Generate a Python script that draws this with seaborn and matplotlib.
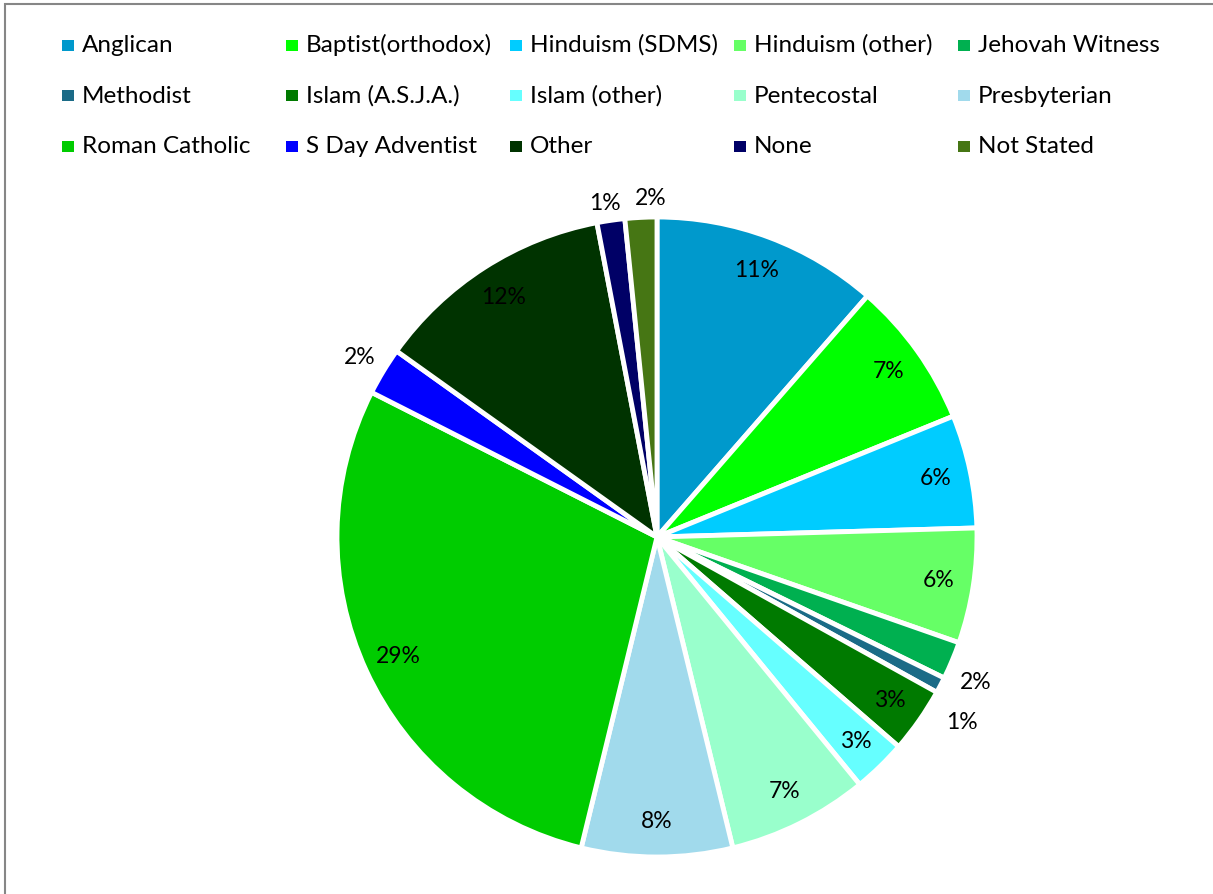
import numpy as np
import matplotlib
matplotlib.use("Agg")
import matplotlib.pyplot as plt
import seaborn as sns
from matplotlib.patches import Rectangle

# Data (share of population, %)
religions = ["Anglican", "Baptist(orthodox)", "Hinduism (SDMS)", "Hinduism (other)",
             "Jehovah Witness", "Methodist", "Islam (A.S.J.A.)", "Islam (other)",
             "Pentecostal", "Presbyterian", "Roman Catholic", "S Day Adventist",
             "Other", "None", "Not Stated"]
shares = [11.4, 7.4, 5.7, 5.8, 1.9, 0.8, 3.3, 2.7, 7.1, 7.6, 28.6, 2.4, 12.1, 1.4, 1.6]
colors = ["#0099CC", "#00FF00", "#00CCFF", "#66FF66", "#00B050", "#1B6B87",
          "#007A00", "#66FFFF", "#99FFCC", "#A1DAEC", "#00CC00", "#0000FF",
          "#003300", "#000066", "#467614"]

sns.set_style("white")
plt.rcParams['font.family'] = ['Lato', 'DejaVu Sans']
FS = 17.5

W, H = 1213, 894
fig = plt.figure(figsize=(W / 100, H / 100), dpi=100)

# pie centre ~ (657, 537) px, radius ~ 320 px
cx, cy, R = 657, 537, 320
ax = fig.add_axes([(cx - R) / W, (H - cy - R) / H, 2 * R / W, 2 * R / H])

palette = sns.color_palette(colors)
wedges, _ = ax.pie(shares, colors=palette, startangle=90, counterclock=False,
                   radius=1.0, wedgeprops=dict(edgecolor="white", linewidth=3.5))
ax.set_xlim(-1, 1)
ax.set_ylim(-1, 1)
ax.set_aspect("equal")
ax.axis("off")

# small outside labels get pushed apart a bit, like Excel's best fit (pixels, right/down)
nudge = {4: (-2, 11), 5: (-3, 25), 13: (-2, 10), 14: (11, 8)}

total = sum(shares)
for i, (w, val) in enumerate(zip(wedges, shares)):
    pct = round(val / total * 100)
    mid = np.deg2rad((w.theta1 + w.theta2) / 2)
    r = 0.89 if pct >= 3 else 1.085
    dx, dy = nudge.get(i, (0, 0))
    ax.annotate(f"{pct}%", (r * np.cos(mid), r * np.sin(mid)),
                xytext=(dx * 0.72, -dy * 0.72), textcoords="offset points",
                ha="center", va="center", fontsize=16.5, color="black",
                annotation_clip=False)

# legend: 5 equal-width columns, 3 rows (Excel style)
col_w, row_h = 224, 50.7
for i, (name, col) in enumerate(zip(religions, palette)):
    r_i, c_i = divmod(i, 5)
    mx = 62 + col_w * c_i
    my = 45 + row_h * r_i
    fig.patches.append(Rectangle((mx / W, 1 - (my + 5.5) / H), 12 / W, 11 / H,
                                 transform=fig.transFigure, facecolor=col,
                                 edgecolor="none"))
    fig.text((mx + 20) / W, 1 - (my + 7) / H, name, fontsize=FS,
             va="baseline", ha="left", color="black")

# chart border (runs off the right and bottom edge)
fig.patches.append(Rectangle((5 / W, -0.1), 1.2, (H - 4) / H + 0.1,
                             transform=fig.transFigure, fill=False,
                             edgecolor="#868686", linewidth=1.5))

fig.savefig("out.png", dpi=100)
